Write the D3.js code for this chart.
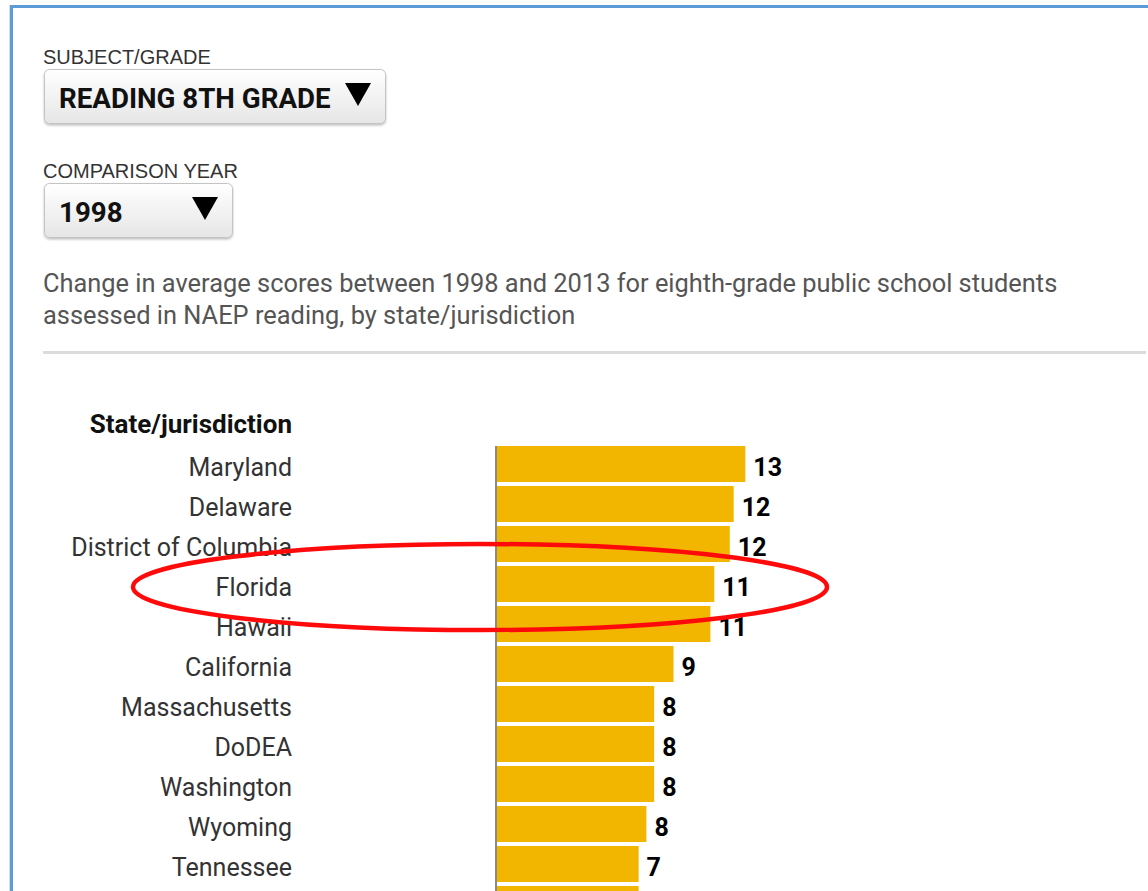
<!DOCTYPE html>
<html lang="en">
<head>
  <meta charset="UTF-8">
  <title>Change in average NAEP reading scores, 1998 to 2013</title>
  <style>
    html, body { margin: 0; padding: 0; background: #fff; }
    svg { display: block; }
    .ctl-label { font-family: 'Liberation Sans', Arial, sans-serif; font-size: 20px; fill: #333; }
    .ctl-value { font-family: Roboto, sans-serif; font-weight: 700; font-size: 27.7px; fill: #111; }
    .desc { font-family: Roboto, sans-serif; font-size: 25.4px; fill: #555; }
    .state { font-family: Roboto, sans-serif; font-size: 25px; fill: #333; }
    .head { font-family: Roboto, sans-serif; font-weight: 700; font-size: 26px; fill: #111; }
    .val { font-family: Roboto, sans-serif; font-weight: 700; font-size: 25px; fill: #000; }
  </style>
</head>
<body>
<svg width="1148" height="891"></svg>
<script src="https://d3js.org/d3.v7.min.js"></script>
<script>

// values (bar lengths); labels show the rounded number
const states = ["Maryland", "Delaware", "District of Columbia", "Florida", "Hawaii",
  "California", "Massachusetts", "DoDEA", "Washington", "Wyoming", "Tennessee", "Kentucky"];
const change = [12.8, 12.2, 12.0, 11.2, 11.0, 9.1, 8.1, 8.1, 8.1, 7.7, 7.3, 7.3];

const subjectLabel = "SUBJECT/GRADE",
    subjectValue = "READING 8TH GRADE",
    yearLabel = "COMPARISON YEAR",
    yearValue = "1998";
const descLines = [
  "Change in average scores between 1998 and 2013 for eighth-grade public school students",
  "assessed in NAEP reading, by state/jurisdiction"
];
const highlight = "Florida";

const W = 1148, H = 891;
const svg = d3.select("svg");

// page frame
svg.append("line").attr("x1", 11.5).attr("x2", 11.5).attr("y1", 5).attr("y2", H)
    .attr("stroke", "#5b9bd8").attr("stroke-width", 3);
svg.append("line").attr("x1", 10).attr("x2", W).attr("y1", 6.5).attr("y2", 6.5)
    .attr("stroke", "#5b9bd8").attr("stroke-width", 3);
svg.append("line").attr("x1", 9.5).attr("x2", 9.5).attr("y1", 5).attr("y2", H)
    .attr("stroke", "#ddd").attr("stroke-width", 1);

// drop-down controls
const defs = svg.append("defs");
const grad = defs.append("linearGradient").attr("id", "btn").attr("x1", 0).attr("x2", 0).attr("y1", 0).attr("y2", 1);
grad.append("stop").attr("offset", "0%").attr("stop-color", "#ffffff");
grad.append("stop").attr("offset", "100%").attr("stop-color", "#e6e6e6");
const shadow = defs.append("filter").attr("id", "sh").attr("x", "-5%").attr("y", "-10%").attr("width", "110%").attr("height", "130%");
shadow.append("feDropShadow").attr("dx", 0).attr("dy", 1.5).attr("stdDeviation", 1.2).attr("flood-color", "#000").attr("flood-opacity", 0.25);

function dropdown(y, label, value, w) {
  svg.append("text").attr("class", "ctl-label").attr("x", 43).attr("y", y).text(label);
  const g = svg.append("g").attr("transform", "translate(44," + (y + 5) + ")");
  g.append("rect").attr("x", 0.5).attr("y", 0.5).attr("width", w).attr("height", 54)
      .attr("rx", 5).attr("fill", "url(#btn)").attr("stroke", "#c4c4c4").attr("filter", "url(#sh)");
  g.append("text").attr("class", "ctl-value").attr("x", 15).attr("y", 39).text(value);
  g.append("path").attr("d", "M" + (w - 40) + ",14 L" + (w - 14) + ",14 L" + (w - 27) + ",37 Z").attr("fill", "#000");
}
dropdown(64, subjectLabel, subjectValue, 341);
dropdown(178, yearLabel, yearValue, 188);

svg.selectAll("text.desc").data(descLines).enter().append("text")
    .attr("class", "desc").attr("x", 43).attr("y", (d, i) => 292 + i * 32).text(d => d);

svg.append("line").attr("x1", 43).attr("x2", 1146).attr("y1", 352.5).attr("y2", 352.5)
    .attr("stroke", "#dcdcdc").attr("stroke-width", 3);

// bar chart
const x0 = 496;
const x = d3.scaleLinear().domain([0, 14]).range([x0, x0 + 14 * 19.4]);
const y = d3.scaleBand().domain(states).range([446, 922]).paddingInner(0.1).paddingOuter(0);
const baseline = d => y(d) + y.bandwidth() / 2 + 12;

svg.append("text").attr("class", "head").attr("x", 292).attr("y", 433)
    .attr("text-anchor", "end").text("State/jurisdiction");

const rows = svg.append("g");
rows.selectAll("rect").data(states).enter().append("rect")
    .attr("x", x(0) + 1)
    .attr("y", d => y(d))
    .attr("width", (d, i) => x(change[i]) - x(0))
    .attr("height", y.bandwidth())
    .attr("fill", "#f2b600");

// rows that run past the bottom of the page show only their bar
const shown = states.map((d, i) => ({ name: d, v: change[i] })).filter(d => baseline(d.name) < H);

rows.selectAll("text.state").data(shown).enter().append("text")
    .attr("class", "state").attr("x", 292).attr("text-anchor", "end")
    .attr("y", d => baseline(d.name)).text(d => d.name);

rows.selectAll("text.val").data(shown).enter().append("text")
    .attr("class", "val")
    .attr("x", d => x(d.v) + 9)
    .attr("y", d => baseline(d.name))
    .text(d => d3.format(".0f")(d.v));

svg.append("line").attr("x1", x(0)).attr("x2", x(0)).attr("y1", 446).attr("y2", H)
    .attr("stroke", "#8a8a8a").attr("stroke-width", 2);

// hand-drawn red ring around the highlighted state
svg.append("ellipse")
    .attr("cx", 480).attr("cy", y(highlight) + y.bandwidth() / 2 + 3)
    .attr("rx", 347).attr("ry", 43)
    .attr("fill", "none").attr("stroke", "#ff0a0a").attr("stroke-width", 4.5);

</script>
</body>
</html>
